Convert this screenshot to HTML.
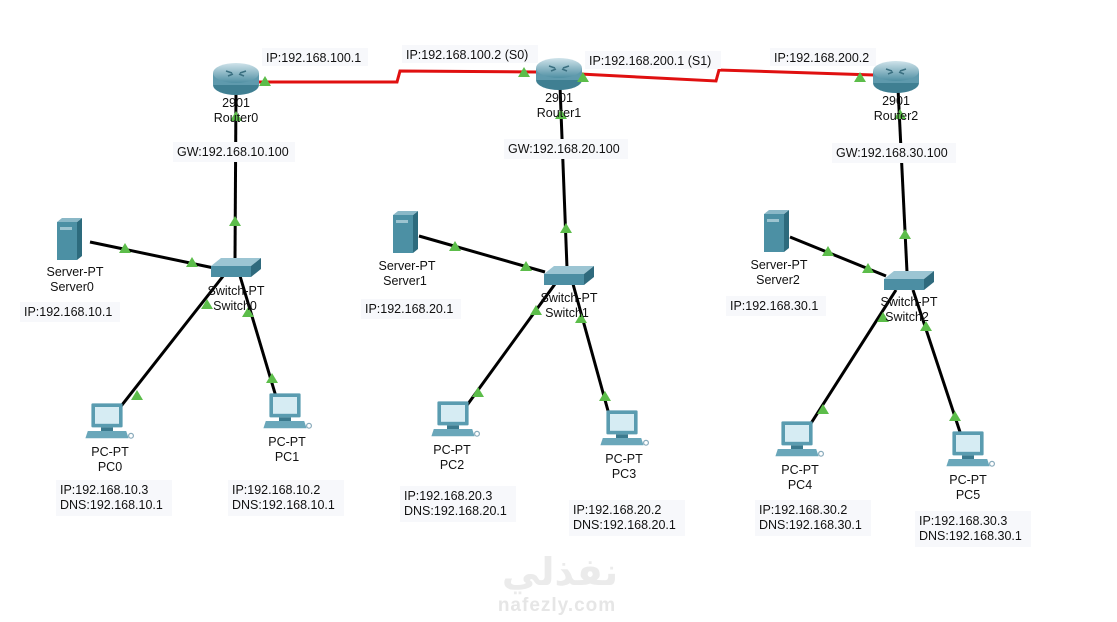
<!DOCTYPE html>
<html><head><meta charset="utf-8"><style>
body{margin:0;background:#fff;}
svg text{font-family:"Liberation Sans",Arial,sans-serif;font-size:12.5px;fill:#111;}
</style></head><body>
<svg width="1117" height="617" viewBox="0 0 1117 617" xmlns="http://www.w3.org/2000/svg">
<defs>
<linearGradient id="rg" x1="0" y1="0" x2="0" y2="1"><stop offset="0" stop-color="#cfe3ea"/><stop offset="1" stop-color="#4f8fa3"/></linearGradient>
<g id="router"><ellipse cx="0" cy="8" rx="23" ry="10" fill="#3f7f92"/><rect x="-23" y="-4" width="46" height="12" fill="#5f9aad"/><ellipse cx="0" cy="-4" rx="23" ry="10" fill="url(#rg)"/><path d="M-10,-6 l6,2 M10,-6 l-6,2 M-8,-1 l5,-2 M8,-1 l-5,-2" stroke="#3a6f80" stroke-width="1.5"/></g>
<g id="switch"><polygon points="-24,-2 -14,-10 26,-10 16,-2" fill="#9cc5d3"/><rect x="-24" y="-2" width="40" height="11" fill="#4c8ea3"/><polygon points="16,-2 26,-10 26,1 16,9" fill="#2f6a7d"/></g>
<g id="server"><rect x="-11" y="-18" width="20" height="38" fill="#4c90a4"/><polygon points="9,-18 14,-22 14,16 9,20" fill="#2d6b7d"/><polygon points="-11,-18 -6,-22 14,-22 9,-18" fill="#8ab8c7"/><rect x="-8" y="-13" width="12" height="3" fill="#9cc4d0"/></g>
<g id="pc0"><rect x="-13" y="-18" width="26" height="20" fill="#5a9cb0" rx="1"/><rect x="-10" y="-15" width="20" height="14" fill="#d6ecf3"/><rect x="-5" y="2" width="10" height="3" fill="#3b7a8e"/><polygon points="-16,5 16,5 18,11 -18,11" fill="#6aa7ba"/><circle cx="20" cy="9" r="2" fill="none" stroke="#8ab" stroke-width="1"/></g>
<g id="pc"><use href="#pc0" transform="translate(0,-2) scale(1.2)"/></g>
<polygon id="tri" points="0,-6 6,4 -6,4" fill="#5cbd4a"/>
</defs>

<polyline points="258,82 397,82 400,71 537,72" fill="none" stroke="#e01010" stroke-width="3"/>
<polyline points="580,74 716,81 719,70 874,75" fill="none" stroke="#e01010" stroke-width="3"/>

<g stroke="#000" stroke-width="3" fill="none">
<line x1="236" y1="90" x2="235" y2="260"/>
<line x1="90" y1="242" x2="214" y2="268"/>
<line x1="224" y1="275" x2="118" y2="410"/>
<line x1="240" y1="276" x2="277" y2="400"/>
<line x1="560" y1="86" x2="567" y2="268"/>
<line x1="419" y1="236" x2="545" y2="272"/>
<line x1="555" y1="284" x2="465" y2="408"/>
<line x1="573" y1="284" x2="610" y2="418"/>
<line x1="898" y1="88" x2="907" y2="272"/>
<line x1="790" y1="237" x2="886" y2="276"/>
<line x1="896" y1="290" x2="808" y2="428"/>
<line x1="913" y1="290" x2="962" y2="438"/>
</g>

<use href="#router" x="236" y="77"/>
<use href="#router" x="559" y="72"/>
<use href="#router" x="896" y="75"/>
<use href="#switch" x="235" y="268"/>
<use href="#switch" x="568" y="276"/>
<use href="#switch" x="908" y="281"/>
<use href="#server" x="68" y="240"/>
<use href="#server" x="404" y="233"/>
<use href="#server" x="775" y="232"/>
<use href="#pc" x="107" y="427"/>
<use href="#pc" x="285" y="417"/>
<use href="#pc" x="453" y="425"/>
<use href="#pc" x="622" y="434"/>
<use href="#pc" x="797" y="445"/>
<use href="#pc" x="968" y="455"/>

<use href="#tri" x="265" y="82"/><use href="#tri" x="524" y="73"/><use href="#tri" x="583" y="78"/><use href="#tri" x="860" y="78"/>
<use href="#tri" x="236" y="117"/><use href="#tri" x="235" y="222"/><use href="#tri" x="125" y="249"/><use href="#tri" x="192" y="263"/><use href="#tri" x="207" y="305"/><use href="#tri" x="248" y="313"/><use href="#tri" x="137" y="396"/><use href="#tri" x="272" y="379"/>
<use href="#tri" x="561" y="115"/><use href="#tri" x="566" y="229"/><use href="#tri" x="455" y="247"/><use href="#tri" x="526" y="267"/><use href="#tri" x="536" y="311"/><use href="#tri" x="581" y="319"/><use href="#tri" x="478" y="393"/><use href="#tri" x="605" y="397"/>
<use href="#tri" x="900" y="115"/><use href="#tri" x="905" y="235"/><use href="#tri" x="828" y="252"/><use href="#tri" x="868" y="269"/><use href="#tri" x="883" y="318"/><use href="#tri" x="926" y="327"/><use href="#tri" x="823" y="410"/><use href="#tri" x="955" y="417"/>

<g fill="#f7f8fb">
<rect x="262" y="48" width="106" height="18"/><rect x="402" y="45" width="136" height="18"/><rect x="585" y="51" width="136" height="18"/><rect x="770" y="48" width="106" height="18"/>
<rect x="173" y="142" width="122" height="20"/><rect x="504" y="139" width="124" height="20"/><rect x="832" y="143" width="124" height="20"/>
<rect x="20" y="302" width="100" height="20"/><rect x="361" y="299" width="100" height="20"/><rect x="726" y="296" width="100" height="20"/>
<rect x="56" y="480" width="116" height="36"/><rect x="228" y="480" width="116" height="36"/><rect x="400" y="486" width="116" height="36"/><rect x="569" y="500" width="116" height="36"/><rect x="755" y="500" width="116" height="36"/><rect x="915" y="511" width="116" height="36"/>
</g>

<g>
<text x="266" y="62">IP:192.168.100.1</text>
<text x="406" y="59">IP:192.168.100.2 (S0)</text>
<text x="589" y="65">IP:192.168.200.1 (S1)</text>
<text x="774" y="62">IP:192.168.200.2</text>
<text x="236" y="107" text-anchor="middle">2901</text><text x="236" y="122" text-anchor="middle">Router0</text>
<text x="559" y="102" text-anchor="middle">2901</text><text x="559" y="117" text-anchor="middle">Router1</text>
<text x="896" y="105" text-anchor="middle">2901</text><text x="896" y="120" text-anchor="middle">Router2</text>
<text x="177" y="156">GW:192.168.10.100</text>
<text x="508" y="153">GW:192.168.20.100</text>
<text x="836" y="157">GW:192.168.30.100</text>
<text x="75" y="276" text-anchor="middle">Server-PT</text><text x="72" y="291" text-anchor="middle">Server0</text>
<text x="407" y="270" text-anchor="middle">Server-PT</text><text x="405" y="285" text-anchor="middle">Server1</text>
<text x="779" y="269" text-anchor="middle">Server-PT</text><text x="778" y="284" text-anchor="middle">Server2</text>
<text x="236" y="295" text-anchor="middle">Switch-PT</text><text x="235" y="310" text-anchor="middle">Switch0</text>
<text x="569" y="302" text-anchor="middle">Switch-PT</text><text x="567" y="317" text-anchor="middle">Switch1</text>
<text x="909" y="306" text-anchor="middle">Switch-PT</text><text x="907" y="321" text-anchor="middle">Switch2</text>
<text x="24" y="316">IP:192.168.10.1</text>
<text x="365" y="313">IP:192.168.20.1</text>
<text x="730" y="310">IP:192.168.30.1</text>
<text x="110" y="456" text-anchor="middle">PC-PT</text><text x="110" y="471" text-anchor="middle">PC0</text>
<text x="287" y="446" text-anchor="middle">PC-PT</text><text x="287" y="461" text-anchor="middle">PC1</text>
<text x="452" y="454" text-anchor="middle">PC-PT</text><text x="452" y="469" text-anchor="middle">PC2</text>
<text x="624" y="463" text-anchor="middle">PC-PT</text><text x="624" y="478" text-anchor="middle">PC3</text>
<text x="800" y="474" text-anchor="middle">PC-PT</text><text x="800" y="489" text-anchor="middle">PC4</text>
<text x="968" y="484" text-anchor="middle">PC-PT</text><text x="968" y="499" text-anchor="middle">PC5</text>
<text x="60" y="494">IP:192.168.10.3</text><text x="60" y="509">DNS:192.168.10.1</text>
<text x="232" y="494">IP:192.168.10.2</text><text x="232" y="509">DNS:192.168.10.1</text>
<text x="404" y="500">IP:192.168.20.3</text><text x="404" y="515">DNS:192.168.20.1</text>
<text x="573" y="514">IP:192.168.20.2</text><text x="573" y="529">DNS:192.168.20.1</text>
<text x="759" y="514">IP:192.168.30.2</text><text x="759" y="529">DNS:192.168.30.1</text>
<text x="919" y="525">IP:192.168.30.3</text><text x="919" y="540">DNS:192.168.30.1</text>
</g>

<text x="560" y="585" text-anchor="middle" style="font-family:'DejaVu Sans',sans-serif;font-size:38px;font-weight:bold;fill:#ebebeb">نفذلي</text>
<text x="557" y="611" text-anchor="middle" style="font-size:19px;font-weight:bold;fill:#e6e6e6;letter-spacing:1px">nafezly.com</text>
</svg>
</body></html>
